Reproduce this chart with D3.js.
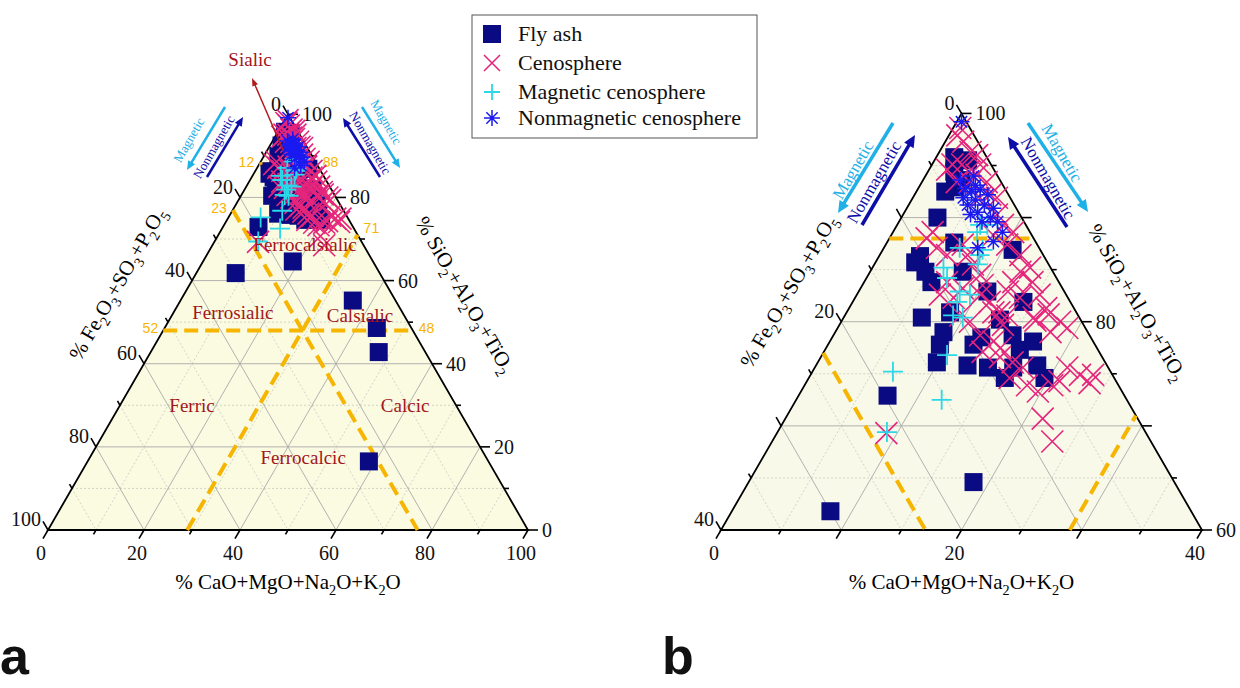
<!DOCTYPE html>
<html><head><meta charset="utf-8">
<script src="https://cdn.jsdelivr.net/npm/d3@7"></script>
<style>body{margin:0;background:#fff}svg{display:block}</style>
</head><body>
<svg id="c" width="1240" height="688"></svg>
<script>
// ===== DATA: compositions [CaO+MgO+Na2O+K2O, SiO2+Al2O3+TiO2] in %; Fe2O3+SO3+P2O5 = 100 - both =====
const flyAsh = [[1.5,95.8],[2.2,94.4],[3.0,92.9],[3.2,93.6],[2.8,95.5],[2.4,92.5],[3.0,90.0],[5.6,87.6],[3.4,86.3],
  [3.3,85.7],[4.6,84.8],[5.6,83.8],[7.7,84.8],[10.8,86.9],[14.2,81.9],[10.7,82.9],[6.5,80.4],[8.6,80.9],[9.0,79.0],
  [9.3,77.8],[9.9,76.1],[12.6,75.8],[14.4,75.6],[12.4,78.5],[12.1,77.8],[14.9,78.7],[16.2,77.3],[16.9,78.1],[16.5,75.6],
  [18.4,75.8],[19.6,74.6],[16.3,74.6],[13.1,80.2],[7.4,72.9],[18.7,64.6],[8.2,61.8],[35.9,55.2],[44.2,48.6],[47.5,42.8],[58.6,16.5]];
const cenosphere = [[0.6,98.6],[0.7,97.9],[1.5,97.3],[2.6,96.3],[3.3,96.0],[2.5,95.1],[3.4,94.4],[4.2,94.1],[4.0,95.1],
  [4.0,93.4],[5.4,93.4],[6.3,92.2],[5.6,91.9],[7.0,91.9],[2.9,93.4],[1.7,95.1],[1.5,94.6],[7.8,90.3],[8.8,89.3],[8.5,88.3],
  [10.0,88.6],[10.1,87.4],[11.7,86.4],[13.1,85.2],[14.0,83.8],[12.5,84.8],[12.4,83.8],[12.4,82.9],[13.7,82.3],[15.2,82.6],
  [16.4,81.3],[18.2,80.0],[19.1,79.4],[15.8,80.4],[17.9,79.0],[16.1,80.1],[16.9,80.7],[22.4,74.9],[23.5,74.9],[21.0,75.6],
  [20.6,73.9],[6.4,87.4],[7.3,86.4],[8.2,85.5],[9.3,84.5],[10.0,83.5],[10.3,82.6],[11.4,81.9],[12.2,80.9],[12.7,80.9],
  [13.5,80.6],[13.6,79.7],[8.2,82.3],[8.5,83.2],[6.9,83.8],[6.9,82.6],[10.7,80.0],[9.6,80.6],[12.2,78.7],[13.6,78.1],
  [14.5,77.5],[14.9,76.6],[13.2,77.1],[16.2,76.1],[17.3,75.6],[16.7,74.6],[18.5,73.9],[19.7,73.3],[3.3,88.6],[4.4,87.1],
  [5.6,86.4],[3.1,88.0],[21.0,74.3],[23.6,74.1],[21.4,70.7],[23.3,68.5],[9.1,69.3]];
const magneticCenosphere = [[6.9,89.3],[7.5,89.3],[7.0,88.6],[6.3,87.1],[8.3,86.9],[8.3,86.4],[8.6,85.5],[5.9,85.2],
  [6.7,84.2],[8.4,82.9],[9.4,82.6],[8.7,81.9],[9.0,80.6],[9.9,80.4],[10.4,76.8],[6.7,75.2],[12.1,72.5],[9.1,69.4]];
const nonmagneticCenosphere = [[3.9,92.8],[4.6,92.5],[5.2,92.7],[6.1,92.2],[5.3,91.7],[4.9,91.2],[6.3,91.2],[7.2,90.9],
  [6.1,90.5],[5.6,90.3],[7.4,90.0],[8.2,89.6],[6.9,89.6],[4.2,91.9],[4.6,93.1],[4.0,94.0],[9.1,88.6],[8.8,87.7],[7.8,87.1],
  [0.4,99.2],[3.1,93.6]];
const seriesNames = ["Fly ash","Cenosphere","Magnetic cenosphere","Nonmagnetic cenosphere"];
// classification boundaries
const boundarySiO2 = [88, 48];
const boundaryFe = [23];
const boundaryCaO = [29];
// region labels (left ternary)
const regionNames = ["Ferrocalsialic","Ferrosialic","Calsialic","Ferric","Calcic","Ferrocalcic"];
const regionCaO   = [19.3, 12.4, 39.3, 15.1, 59.5, 44.5];
const regionSiO2  = [68.5, 52.2, 51.4, 29.8, 29.8, 17.3];
// tick labels
const ticksA = [0,20,40,60,80,100];
const ticksB_CaO = [0,20,40];
const ticksB_SiO2 = [60,80,100];
const ticksB_Fe = [0,20,40];

// ===== STYLE / LAYOUT =====
const SERIF = '"Liberation Serif","Times New Roman",serif';
const SANS = '"Liberation Sans",Arial,sans-serif';
const C_NAVY = "#0a0a82", C_MAG = "#e5267c", C_CYAN = "#2ad8e8", C_STAR = "#1a1af0";
const C_ORANGE = "#f6b500", C_RED = "#a3161b", C_LBLUE = "#1eb0e6", C_DBLUE = "#0d0da8";
const svg = d3.select("#c");

const tris = [
  {id:"a", x0:48, x1:528, y0:530, sMin:0, span:100, major:20, minor:10, bg:"#fbfbe2",
   tC:ticksA, tS:ticksA, tF:ticksA, titleL:[8,63], titleR:[5,63], orangeLabels:true},
  {id:"b", x0:721, x1:1202, y0:530, sMin:60, span:40, major:10, minor:5, bg:"#f8f9e8",
   tC:ticksB_CaO, tS:ticksB_SiO2, tF:ticksB_Fe, titleL:[0,61], titleR:[11,58], orangeLabels:false}
];

function rich(sel, parts, size){
  parts.forEach(([t,sub],i)=>{
    const ts = sel.append("tspan").text(t);
    if(sub){ ts.attr("font-size", size*0.68).attr("dy", size*0.28); }
    else if(i>0 && parts[i-1][1]){ ts.attr("dy", -size*0.28); }
  });
}
const feTitle = [["% Fe",0],["2",1],["O",0],["3",1],["+SO",0],["3",1],["+P",0],["2",1],["O",0],["5",1]];
const siTitle = [["% SiO",0],["2",1],["+Al",0],["2",1],["O",0],["3",1],["+TiO",0],["2",1]];
const caTitle = [["% CaO+MgO+Na",0],["2",1],["O+K",0],["2",1],["O",0]];

function sqMark(g,x,y,sz,col){ g.append("rect").attr("x",x-sz/2).attr("y",y-sz/2).attr("width",sz).attr("height",sz).attr("fill",col); }
function xMark(g,x,y,r,col,w){ g.append("path").attr("d",`M${x-r},${y-r}L${x+r},${y+r}M${x-r},${y+r}L${x+r},${y-r}`).attr("stroke",col).attr("stroke-width",w).attr("fill","none"); }
function plusMark(g,x,y,r,col,w){ g.append("path").attr("d",`M${x-r},${y}L${x+r},${y}M${x},${y-r}L${x},${y+r}`).attr("stroke",col).attr("stroke-width",w).attr("fill","none"); }
function starMark(g,x,y,r,col,w){ const d=r*0.7071; g.append("path").attr("d",`M${x-r},${y}L${x+r},${y}M${x},${y-r}L${x},${y+r}M${x-d},${y-d}L${x+d},${y+d}M${x-d},${y+d}L${x+d},${y-d}`).attr("stroke",col).attr("stroke-width",w).attr("fill","none"); }

function arrow(g,x1,y1,x2,y2,col,w,hl,hw){
  const dx=x2-x1, dy=y2-y1, L=Math.hypot(dx,dy), ux=dx/L, uy=dy/L;
  const bx=x2-ux*hl, by=y2-uy*hl;
  g.append("line").attr("x1",x1).attr("y1",y1).attr("x2",bx+ux*1).attr("y2",by+uy*1).attr("stroke",col).attr("stroke-width",w);
  g.append("polygon").attr("points",`${x2},${y2} ${bx-uy*hw/2},${by+ux*hw/2} ${bx+uy*hw/2},${by-ux*hw/2}`).attr("fill",col);
}

tris.forEach(T=>{
  const side = T.x1 - T.x0, h = side*Math.sqrt(3)/2;
  const xs = d3.scaleLinear().domain([0, T.span]).range([T.x0, T.x1]);
  const ys = d3.scaleLinear().domain([T.sMin, 100]).range([T.y0, T.y0 - h]);
  const P = (c,s)=>[xs(c + (s - T.sMin)/2), ys(s)];
  const inR = (c,s)=> c>=0 && c<=T.span && s>=T.sMin && s<=100 && (100-c-s)>=0 && (100-c-s)<=T.span;
  const g = svg.append("g");
  const BL=P(0,T.sMin), BR=P(T.span,T.sMin), AP=P(0,100);
  g.append("polygon").attr("points",[BL,BR,AP].map(p=>p.join(",")).join(" ")).attr("fill",T.bg);

  // grid
  const gg = g.append("g").attr("fill","none");
  for(let v=T.minor; v<T.span; v+=T.minor){
    const isMaj = Math.abs(v % T.major) < 1e-6;
    const st = isMaj ? {c:"#a9a9a9",w:0.9,d:null} : {c:"#c9c9c0",w:0.8,d:"2,2"};
    const segs = [
      [P(0,T.sMin+v), P(100-(T.sMin+v), T.sMin+v)],
      [P(v,T.sMin), P(v,100-v)],
      [P(0,100-v), P(100-v-T.sMin, T.sMin)]
    ];
    segs.forEach(([a,b])=>{
      const l=gg.append("line").attr("x1",a[0]).attr("y1",a[1]).attr("x2",b[0]).attr("y2",b[1]).attr("stroke",st.c).attr("stroke-width",st.w);
      if(st.d) l.attr("stroke-dasharray",st.d);
    });
  }

  // ticks
  const tg = g.append("g").attr("stroke","#000").attr("stroke-width",1.6);
  const dirB=[-0.5,0.866], dirR=[1,0], dirL=[-0.5,-0.866];
  for(let v=0; v<=T.span+1e-6; v+=T.minor){
    const L = (Math.abs(v % T.major)<1e-6) ? 10 : 5;
    [[P(v,T.sMin),dirB],[P(100-(T.sMin+v),T.sMin+v),dirR],[P(0,100-v),dirL]].forEach(([p,d])=>{
      tg.append("line").attr("x1",p[0]).attr("y1",p[1]).attr("x2",p[0]+d[0]*L).attr("y2",p[1]+d[1]*L);
    });
  }
  // outline
  g.append("polygon").attr("points",[BL,BR,AP].map(p=>p.join(",")).join(" ")).attr("fill","none").attr("stroke","#000").attr("stroke-width",1.8);

  // tick labels
  const lg = g.append("g").attr("font-family",SERIF).attr("font-size",20).attr("fill","#111");
  T.tC.forEach(v=>{ const p=P(v,T.sMin); lg.append("text").attr("x",p[0]-5-2).attr("y",T.y0+30).attr("text-anchor","middle").text(v); });
  T.tS.forEach(v=>{ const p=P(100-v,v); lg.append("text").attr("x",p[0]+14).attr("y",p[1]+7).attr("text-anchor","start").text(v); });
  T.tF.forEach(v=>{ const p=P(0,100-v); lg.append("text").attr("x",p[0]-5-2).attr("y",p[1]-8.66+5).attr("text-anchor","end").text(v); });

  // axis titles
  const FS = 21;
  const mL=[(BL[0]+AP[0])/2,(BL[1]+AP[1])/2], mR=[(BR[0]+AP[0])/2,(BR[1]+AP[1])/2];
  const cL=[mL[0]+0.5*T.titleL[0]-0.866*T.titleL[1], mL[1]-0.866*T.titleL[0]-0.5*T.titleL[1]];
  const cR=[mR[0]+0.5*T.titleR[0]+0.866*T.titleR[1], mR[1]+0.866*T.titleR[0]-0.5*T.titleR[1]];
  const t1=g.append("text").attr("font-family",SERIF).attr("font-size",FS).attr("text-anchor","middle").attr("y",7)
    .attr("transform",`translate(${cL[0]},${cL[1]}) rotate(-60)`); rich(t1,feTitle,FS);
  const t2=g.append("text").attr("font-family",SERIF).attr("font-size",FS).attr("text-anchor","middle").attr("y",7)
    .attr("transform",`translate(${cR[0]},${cR[1]}) rotate(60)`); rich(t2,siTitle,FS);
  const t3=g.append("text").attr("font-family",SERIF).attr("font-size",FS).attr("text-anchor","middle")
    .attr("x",(BL[0]+BR[0])/2).attr("y",T.y0+59); rich(t3,caTitle,FS);

  // classification boundaries
  const dg = g.append("g").attr("stroke",C_ORANGE).attr("stroke-width",4).attr("stroke-dasharray","14,7").attr("fill","none");
  const og = g.append("g").attr("font-family",SANS).attr("font-size",14).attr("fill",C_ORANGE);
  boundarySiO2.forEach(v=>{ if(v<T.sMin) return; const a=P(0,v), b=P(100-v,v);
    dg.append("line").attr("x1",a[0]).attr("y1",a[1]).attr("x2",b[0]).attr("y2",b[1]);
    if(T.orangeLabels){ og.append("text").attr("x",a[0]-5).attr("y",a[1]+3).attr("text-anchor","end").text(100-v);
      og.append("text").attr("x",b[0]+6).attr("y",b[1]+3).attr("text-anchor","start").text(v); } });
  boundaryFe.forEach(v=>{ if(v>T.span) return; const a=P(0,100-v), b=P(100-v-T.sMin,T.sMin);
    dg.append("line").attr("x1",a[0]).attr("y1",a[1]).attr("x2",b[0]).attr("y2",b[1]);
    if(T.orangeLabels) og.append("text").attr("x",a[0]-6).attr("y",a[1]+3).attr("text-anchor","end").text(v); });
  boundaryCaO.forEach(v=>{ if(v>T.span) return; const a=P(v,T.sMin), b=P(v,100-v);
    dg.append("line").attr("x1",a[0]).attr("y1",a[1]).attr("x2",b[0]).attr("y2",b[1]);
    if(T.orangeLabels) og.append("text").attr("x",b[0]+6).attr("y",b[1]-2).attr("text-anchor","start").text(100-v); });

  // points
  const pg = g.append("g");
  flyAsh.filter(d=>inR(d[0],d[1])).forEach(d=>{ const p=P(d[0],d[1]); sqMark(pg,p[0],p[1],18,C_NAVY); });
  cenosphere.filter(d=>inR(d[0],d[1])).forEach(d=>{ const p=P(d[0],d[1]); xMark(pg,p[0],p[1],11,C_MAG,1.6); });
  magneticCenosphere.filter(d=>inR(d[0],d[1])).forEach(d=>{ const p=P(d[0],d[1]); plusMark(pg,p[0],p[1],10,C_CYAN,1.8); });
  nonmagneticCenosphere.filter(d=>inR(d[0],d[1])).forEach(d=>{ const p=P(d[0],d[1]); starMark(pg,p[0],p[1],8,C_STAR,1.5); });

  // region labels
  if(T.id==="a"){
    const rg = g.append("g").attr("font-family",SERIF).attr("font-size",19).attr("fill",C_RED).attr("text-anchor","middle");
    regionNames.forEach((n,i)=>{ const p=P(regionCaO[i],regionSiO2[i]); rg.append("text").attr("x",p[0]).attr("y",p[1]+6).text(n); });
  }
});

// ===== annotations: left ternary =====
const an = svg.append("g");
an.append("text").attr("x",250).attr("y",66).attr("font-family",SERIF).attr("font-size",19).attr("fill",C_RED).attr("text-anchor","middle").text("Sialic");
arrow(an,283,150,252,78,"#b01c1c",1.5,8,6);
function arrowText(x,y,rot,txt,col,size){
  an.append("text").attr("transform",`translate(${x},${y}) rotate(${rot})`).attr("text-anchor","middle").attr("y",size*0.33)
    .attr("font-family",SERIF).attr("font-size",size).attr("fill",col).text(txt);
}
arrow(an,225,107,187,170,C_LBLUE,2.5,9,8);
arrow(an,207,177,243,117,C_DBLUE,2.5,9,8);
arrow(an,362,107,400,168,C_LBLUE,2.5,9,8);
arrow(an,380,177,343,118,C_DBLUE,2.5,9,8);
arrowText(189,140,-60,"Magnetic",C_LBLUE,13);
arrowText(214,147,-60,"Nonmagnetic",C_DBLUE,13);
arrowText(386,122,60,"Magnetic",C_LBLUE,13);
arrowText(370,143,60,"Nonmagnetic",C_DBLUE,13);
// right ternary
arrow(an,893,123,838,213,C_LBLUE,3.5,12,11);
arrow(an,862,225,915,135,C_DBLUE,3.5,12,11);
arrow(an,1028,123,1088,212,C_LBLUE,3.5,12,11);
arrow(an,1067,227,1008,137,C_DBLUE,3.5,12,11);
arrowText(853,170,-60,"Magnetic",C_LBLUE,17);
arrowText(874,182,-60,"Nonmagnetic",C_DBLUE,17);
arrowText(1062,153,60,"Magnetic",C_LBLUE,17);
arrowText(1048,178,60,"Nonmagnetic",C_DBLUE,17);

// ===== legend =====
const lgd = svg.append("g");
lgd.append("rect").attr("x",472).attr("y",15).attr("width",285).attr("height",123).attr("fill","#fff").attr("stroke","#555").attr("stroke-width",1);
const legY = [34,63,92,118];
sqMark(lgd,492,legY[0],18,C_NAVY);
xMark(lgd,492,legY[1],8,C_MAG,1.6);
plusMark(lgd,492,legY[2],8,C_CYAN,1.8);
starMark(lgd,492,legY[3],8,C_STAR,1.5);
seriesNames.forEach((n,i)=>{ lgd.append("text").attr("x",518).attr("y",legY[i]+7).attr("font-family",SERIF).attr("font-size",22).attr("fill","#111").text(n); });

// panel letters
svg.append("text").attr("x",0).attr("y",674).attr("font-family",SANS).attr("font-weight","bold").attr("font-size",52).attr("fill","#111").text("a");
svg.append("text").attr("x",662).attr("y",674).attr("font-family",SANS).attr("font-weight","bold").attr("font-size",52).attr("fill","#111").text("b");
</script>
</body></html>
